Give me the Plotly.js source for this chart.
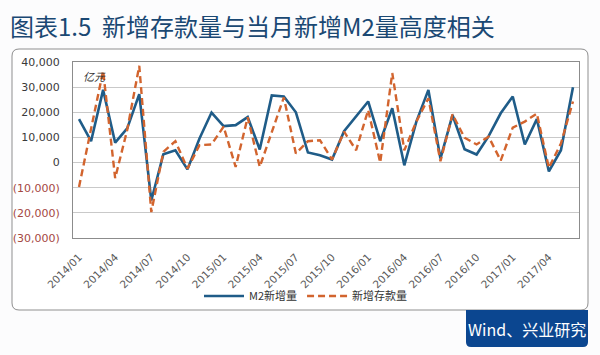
<!DOCTYPE html>
<html>
<head>
<meta charset="utf-8">
<script src="https://cdn.plot.ly/plotly-3.0.1.min.js"></script>
<style>html,body{margin:0;padding:0;background:#fcfcfd;}#chart{width:600px;height:355px;}</style>
</head>
<body>
<div id="chart"></div>
<script>
// ---- data ----
const months = [
 "2014/01","2014/02","2014/03","2014/04","2014/05","2014/06","2014/07","2014/08","2014/09","2014/10","2014/11","2014/12",
 "2015/01","2015/02","2015/03","2015/04","2015/05","2015/06","2015/07","2015/08","2015/09","2015/10","2015/11","2015/12",
 "2016/01","2016/02","2016/03","2016/04","2016/05","2016/06","2016/07","2016/08","2016/09","2016/10","2016/11","2016/12",
 "2017/01","2017/02","2017/03","2017/04","2017/05","2017/06"
];
const m2New = [
 17300, 8500, 28900, 7900, 13600, 27200, -15100, 3300, 4900, -2700, 9600, 19900,
 14500, 14900, 18100, 5200, 26700, 26300, 20000, 4000, 2900, 1200, 12500, 18300,
 24300, 8500, 21600, -1100, 16300, 28900, 1600, 18900, 5300, 3200, 10500, 19600,
 26300, 7200, 17300, -3500, 4900, 30000
];
const depositNew = [
 -9700, 13000, 36500, -6200, 13000, 38500, -19700, 4300, 8500, -2400, 6900, 7200,
 14300, -1700, 18000, -1700, 12500, 25900, 3600, 8500, 8900, 1200, 12300, 4900,
 20900, 0, 35600, 4900, 16300, 25600, 500, 19200, 9900, 7200, 10300, 800,
 13900, 16300, 19500, -2100, 7600, 24300
];
const seriesNames = ["M2新增量", "新增存款量"];
const xTickVals = ["2014/01","2014/04","2014/07","2014/10","2015/01","2015/04","2015/07","2015/10",
                   "2016/01","2016/04","2016/07","2016/10","2017/01","2017/04"];
const yTickVals = [40000, 30000, 20000, 10000, 0, -10000, -20000, -30000];
const yTickText = ["40,000","30,000","20,000","10,000","0","(10,000)","(20,000)","(30,000)"];
const titleText = "图表1.5  新增存款量与当月新增M2量高度相关";
const unitText = "亿元";
const sourceText = "Wind、兴业研究";

// ---- layout helpers (pixel -> paper) ----
const L = 73, R = 579, T = 62, B = 238;
const px = v => (v - L) / (R - L);
const py = v => (B - v) / (B - T);

function roundRectPath(x0, y0, x1, y1, r) {
  const X = px, Y = py;
  return `M ${X(x0 + r)} ${Y(y0)} L ${X(x1 - r)} ${Y(y0)} Q ${X(x1)} ${Y(y0)} ${X(x1)} ${Y(y0 + r)}` +
         ` L ${X(x1)} ${Y(y1 - r)} Q ${X(x1)} ${Y(y1)} ${X(x1 - r)} ${Y(y1)}` +
         ` L ${X(x0 + r)} ${Y(y1)} Q ${X(x0)} ${Y(y1)} ${X(x0)} ${Y(y1 - r)}` +
         ` L ${X(x0)} ${Y(y0 + r)} Q ${X(x0)} ${Y(y0)} ${X(x0 + r)} ${Y(y0)} Z`;
}
function bottomRoundRectPath(x0, y0, x1, y1, r) {
  const X = px, Y = py;
  return `M ${X(x0)} ${Y(y0)} L ${X(x1)} ${Y(y0)}` +
         ` L ${X(x1)} ${Y(y1 - r)} Q ${X(x1)} ${Y(y1)} ${X(x1 - r)} ${Y(y1)}` +
         ` L ${X(x0 + r)} ${Y(y1)} Q ${X(x0)} ${Y(y1)} ${X(x0)} ${Y(y1 - r)} Z`;
}

const negColor = "#a5483f";
const yTickTextStyled = yTickText.map((t, i) => yTickVals[i] < 0 ? `<span style="color:${negColor}">${t}</span>` : t);

const traces = [
  { x: months, y: m2New, name: seriesNames[0], type: "scatter", mode: "lines",
    line: { color: "#1f5c88", width: 2.6 } },
  { x: months, y: depositNew, name: seriesNames[1], type: "scatter", mode: "lines",
    line: { color: "#d2642e", width: 2.4, dash: "7px,4px" } }
];

const layout = {
  width: 600, height: 355,
  margin: { l: L, r: 600 - R, t: T, b: 355 - B, pad: 0 },
  paper_bgcolor: "#fcfcfd",
  plot_bgcolor: "#ffffff",
  showlegend: true,
  title: { text: titleText, xref: "container", yref: "container", x: 10/600, xanchor: "left",
           y: 1 - 28/355, yanchor: "middle",
           font: { family: "Noto Sans CJK SC, sans-serif", size: 24, color: "#1a4873" } },
  xaxis: {
    type: "category", range: [-0.5, months.length - 0.5],
    tickmode: "array", tickvals: xTickVals, ticktext: xTickVals,
    tickangle: -45, ticks: "", ticklabelstandoff: 8,
    tickfont: { family: "DejaVu Sans, sans-serif", size: 10.5, color: "#5a5a5a" },
    showgrid: false, showline: true, mirror: true, linecolor: "#8c8c8c", linewidth: 1,
    zeroline: false
  },
  yaxis: {
    range: [-30000, 40000], tickmode: "array", tickvals: yTickVals, ticktext: yTickTextStyled,
    ticks: "", ticklabelstandoff: 10,
    tickfont: { family: "DejaVu Sans, sans-serif", size: 11, color: "#3a3a3a" },
    showgrid: true, gridcolor: "#c9c9c9", gridwidth: 1.2,
    zeroline: true, zerolinecolor: "#c9c9c9", zerolinewidth: 1.2,
    showline: true, mirror: true, linecolor: "#8c8c8c", linewidth: 1
  },
  legend: {
    orientation: "h", x: px(306), xanchor: "center", y: py(296), yanchor: "middle",
    bgcolor: "rgba(0,0,0,0)", font: { family: "Noto Sans CJK SC, sans-serif", size: 11, color: "#333" },
    itemwidth: 40, tracegroupgap: 0
  },
  shapes: [
    { type: "path", xref: "paper", yref: "paper", path: roundRectPath(12, 49, 588, 310, 7),
      line: { color: "#8f8f8f", width: 1 }, fillcolor: "#ffffff", layer: "below" },
    { type: "path", xref: "paper", yref: "paper", path: bottomRoundRectPath(466, 310, 588, 347, 5),
      line: { width: 0 }, fillcolor: "#0b4690", layer: "above" }
  ],
  annotations: [
    { text: "<i>" + unitText + "</i>", xref: "paper", yref: "paper", x: px(81), y: py(76), xanchor: "left", yanchor: "middle",
      showarrow: false, font: { family: "Noto Sans CJK SC, sans-serif", size: 11, color: "#333" } },
    { text: sourceText, xref: "paper", yref: "paper", x: px(527), y: py(329), xanchor: "center", yanchor: "middle",
      showarrow: false, font: { family: "Noto Sans CJK SC, sans-serif", size: 16, color: "#ffffff" } }
  ]
};

Plotly.newPlot("chart", traces, layout, { displayModeBar: false, staticPlot: true });
</script>
</body>
</html>
